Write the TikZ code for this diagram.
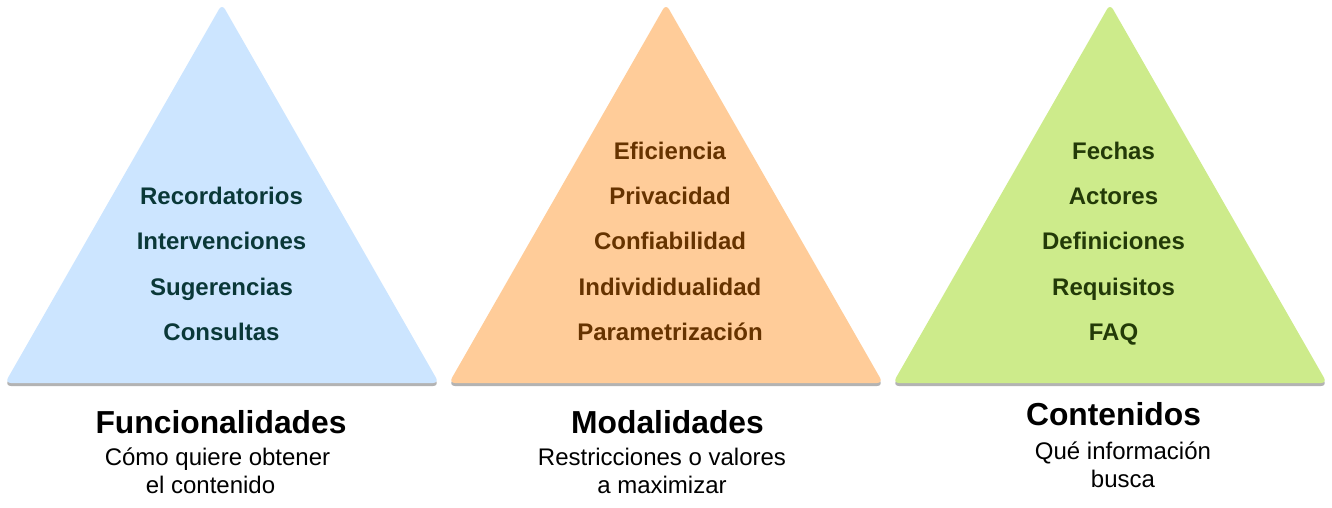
\documentclass[tikz,border=0pt]{standalone}
\usepackage{fontspec}
\setmainfont{Liberation Sans}
\definecolor{bluefill}{HTML}{CCE5FF}
\definecolor{bluetext}{HTML}{0A3838}
\definecolor{orangefill}{HTML}{FFCC99}
\definecolor{orangetext}{HTML}{663300}
\definecolor{greenfill}{HTML}{CDEB8B}
\definecolor{greentext}{HTML}{233A08}
\definecolor{shadowgray}{HTML}{B3B3B3}
\begin{document}
\begin{tikzpicture}[x=1pt,y=-1pt,
  tri/.style={rounded corners=6pt},
  item/.style={anchor=base,inner sep=0pt,font=\fontsize{24}{28}\selectfont\bfseries},
  ttl/.style={anchor=base,inner sep=0pt,font=\fontsize{31.8}{36}\selectfont\bfseries,text=black},
  sub/.style={anchor=base,inner sep=0pt,font=\fontsize{24}{28}\selectfont,text=black}]
\useasboundingbox (0,0) rectangle (1332,507);
% shadows
\fill[shadowgray,tri] (5,386) -- (222,7) -- (439,386) -- cycle;
\fill[shadowgray,tri] (449,386) -- (666,7) -- (883,386) -- cycle;
\fill[shadowgray,tri] (893,386) -- (1110,7) -- (1327,386) -- cycle;
% triangles
\fill[bluefill,tri] (5,383) -- (222,4) -- (439,383) -- cycle;
\fill[orangefill,tri] (449,383) -- (666,4) -- (883,383) -- cycle;
\fill[greenfill,tri] (893,383) -- (1110,4) -- (1327,383) -- cycle;
% blue items
\node[item,text=bluetext] (b1) at (221.5,204) {Recordatorios};
\node[item,text=bluetext] (b2) at (221.5,249.5) {Intervenciones};
\node[item,text=bluetext] (b3) at (221.5,295) {Sugerencias};
\node[item,text=bluetext] (b4) at (221.5,340) {Consultas};
% orange items
\node[item,text=orangetext] (o1) at (670,159) {Eficiencia};
\node[item,text=orangetext] (o2) at (670,204) {Privacidad};
\node[item,text=orangetext] (o3) at (670,249.5) {Confiabilidad};
\node[item,text=orangetext] (o4) at (670,295) {Individidualidad};
\node[item,text=orangetext] (o5) at (670,340) {Parametrización};
% green items
\node[item,text=greentext] (g1) at (1113.5,159) {Fechas};
\node[item,text=greentext] (g2) at (1113.5,204) {Actores};
\node[item,text=greentext] (g3) at (1113.5,249.5) {Definiciones};
\node[item,text=greentext] (g4) at (1113.5,295) {Requisitos};
\node[item,text=greentext] (g5) at (1113.5,340) {FAQ};
% titles
\node[ttl] (t1) at (221,433) {Funcionalidades};
\node[sub] (s1a) at (217.5,465.5) {Cómo quiere obtener};
\node[sub] (s1b) at (210.5,493) {el contenido};
\node[ttl] (t2) at (667.5,433) {Modalidades};
\node[sub] (s2a) at (662,465.5) {Restricciones o valores};
\node[sub] (s2b) at (662,493) {a maximizar};
\node[ttl] (t3) at (1113.5,425) {Contenidos};
\node[sub] (s3a) at (1123,459) {Qué información};
\node[sub] (s3b) at (1123,487) {busca};
\end{tikzpicture}
\end{document}
